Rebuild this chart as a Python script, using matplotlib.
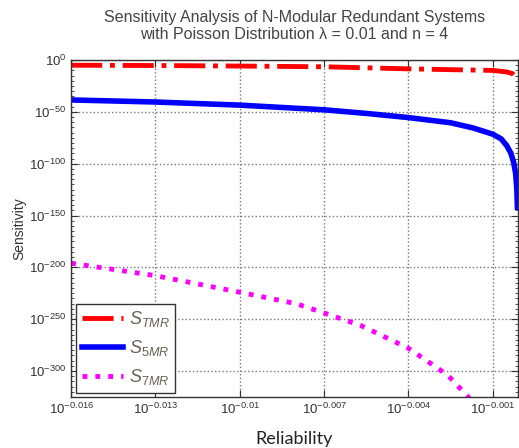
import numpy as np
import matplotlib
matplotlib.use('Agg')
import matplotlib.pyplot as plt
from matplotlib.ticker import FixedLocator, MultipleLocator

plt.rcParams['font.family'] = ['Liberation Sans', 'DejaVu Sans']
plt.rcParams['mathtext.fontset'] = 'custom'
plt.rcParams['mathtext.rm'] = 'Liberation Sans'
plt.rcParams['mathtext.it'] = 'Liberation Sans:italic'
plt.rcParams['axes.unicode_minus'] = False

# exponents: x = log10(reliability), y = log10(sensitivity)
x_tmr = [-0.016, -0.013, -0.010, -0.007, -0.004, -0.0025, -0.001, -0.0005, -0.0003, -0.0002, -0.00012]
y_tmr = [-5.0, -5.3, -5.8, -6.5, -8.5, -9.3, -10.0, -11.5, -13.0, -16.0, -20.0]

x_5mr = [-0.016, -0.013, -0.010, -0.008, -0.007, -0.0055, -0.004, -0.0025, -0.0017, -0.001,
         -0.0007, -0.0005, -0.00035, -0.00025, -0.00018, -0.00014, -0.00012]
y_5mr = [-38.5, -40.5, -43.5, -46.5, -48.0, -51.5, -55.5, -60.5, -65.5, -71.5,
         -76.0, -82.5, -90.0, -99.0, -110.0, -125.0, -142.0]

x_7mr = [-0.016, -0.013, -0.010, -0.008, -0.007, -0.0057, -0.004, -0.0026, -0.0017]
y_7mr = [-196, -208, -224, -235, -244, -256, -278, -304, -330]

xticks = [-0.016, -0.013, -0.010, -0.007, -0.004, -0.001]
xtick_labels = ['-0.016', '-0.013', '-0.01', '-0.007', '-0.004', '-0.001']
yticks = [0, -50, -100, -150, -200, -250, -300]

fig = plt.figure(figsize=(5.19, 4.48), dpi=100)
ax = fig.add_axes([0.137, 0.114, 0.861, 0.752])

ax.plot(x_tmr, y_tmr, color='red', linestyle='-.', linewidth=3.5, label=r'$S_{TMR}$')
ax.plot(x_5mr, y_5mr, color='blue', linestyle='-', linewidth=4, label=r'$S_{5MR}$')
ax.plot(x_7mr, y_7mr, color='magenta', linestyle=':', linewidth=3.5, label=r'$S_{7MR}$')

ax.set_xlim(-0.016, -0.0001)
ax.set_ylim(-325, 0)

ax.xaxis.set_major_locator(FixedLocator(xticks))
ax.set_xticklabels([f'$\\mathrm{{10}}^{{\\mathrm{{{t}}}}}$' for t in xtick_labels])
ax.yaxis.set_major_locator(FixedLocator(yticks))
ax.set_yticklabels([f'$\\mathrm{{10}}^{{\\mathrm{{{t}}}}}$' for t in yticks])
ax.yaxis.set_minor_locator(MultipleLocator(5))

ax.tick_params(axis='both', which='both', direction='in', top=True, right=True,
               labelsize=9.5, labelcolor='#333333', color='#333333')
ax.tick_params(which='major', length=5)
ax.tick_params(which='minor', length=2.5)
for s in ax.spines.values():
    s.set_color('#333333')
    s.set_linewidth(1.0)

ax.grid(True, which='major', linestyle=':', color='#777777', linewidth=1.0)

ax.set_title('Sensitivity Analysis of N-Modular Redundant Systems\nwith Poisson Distribution λ = 0.01 and n = 4',
             fontsize=11.5, color='#444444', pad=15)
ax.set_ylabel('Sensitivity', fontsize=10, color='#333333', labelpad=2)
ax.set_xlabel('Reliability', fontsize=13, color='#222222', family=['Lato', 'DejaVu Sans'], labelpad=10)

leg = ax.legend(loc='lower left', bbox_to_anchor=(0.012, 0.012), fontsize=13, handlelength=2.3,
                handletextpad=0.3, fancybox=False, framealpha=1, edgecolor='#333333',
                borderpad=0.3, labelspacing=0.5, borderaxespad=0)
for t in leg.get_texts():
    t.set_color('#6b6055')

fig.savefig('out.png', dpi=100)
